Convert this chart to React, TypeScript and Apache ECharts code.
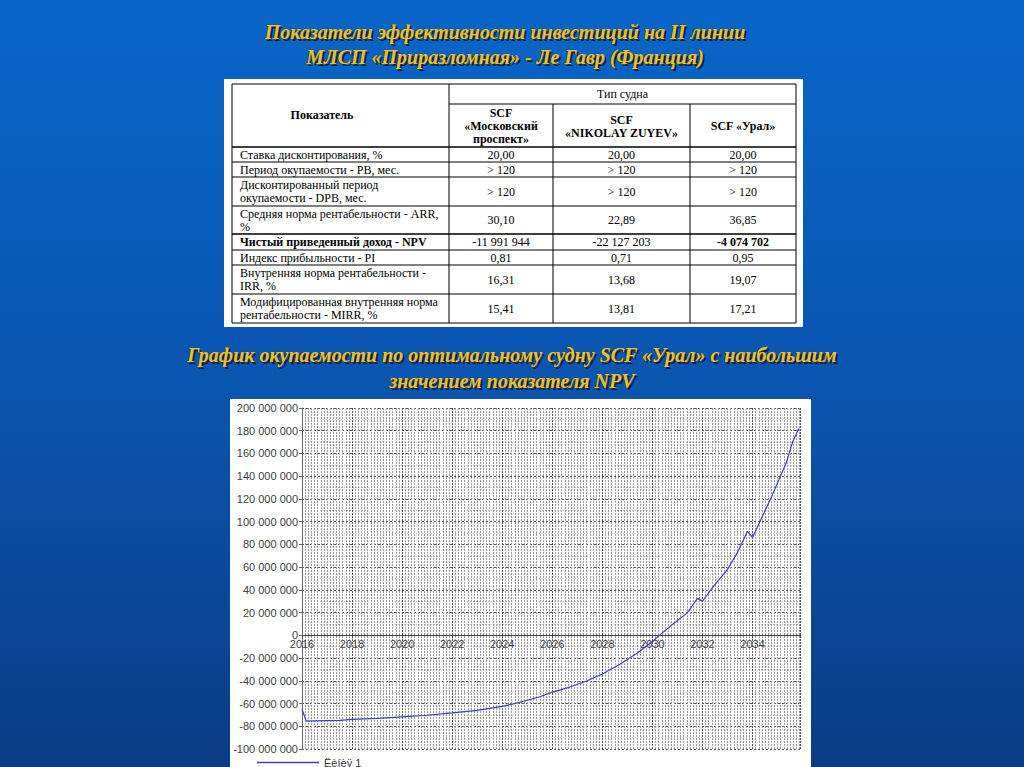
import React, { useEffect, useRef } from "react";
import * as echarts from "echarts";

// ---------- texts ----------
const titleLines = [
  "Показатели эффективности инвестиций на II линии",
  "МЛСП «Приразломная» - Ле Гавр (Франция)",
];
const chartTitleLines = [
  "График окупаемости по оптимальному судну SCF «Урал» с наибольшим",
  "значением показателя NPV",
];

// ---------- table data ----------
const tableHeaderIndicator = "Показатель";
const tableHeaderGroup = "Тип судна";
const shipNames = ["SCF\n«Московский\nпроспект»", "SCF\n«NIKOLAY ZUYEV»", "SCF «Урал»"];
const indicatorNames = [
  "Ставка дисконтирования, %",
  "Период окупаемости - PB, мес.",
  "Дисконтированный период\nокупаемости - DPB, мес.",
  "Средняя норма рентабельности - ARR,\n%",
  "Чистый приведенный доход - NPV",
  "Индекс прибыльности - PI",
  "Внутренняя норма рентабельности -\nIRR, %",
  "Модифицированная внутренняя норма\nрентабельности - MIRR, %",
];
const moskovskyValues = ["20,00", "> 120", "> 120", "30,10", "-11 991 944", "0,81", "16,31", "15,41"];
const nikolayValues = ["20,00", "> 120", "> 120", "22,89", "-22 127 203", "0,71", "13,68", "13,81"];
const uralValues = ["20,00", "> 120", "> 120", "36,85", "-4 074 702", "0,95", "19,07", "17,21"];

// ---------- chart data ----------
const years = [
  2016.0, 2016.17, 2017.5, 2018.0, 2019.0, 2020.0, 2021.0, 2022.0, 2023.0, 2023.3,
  2024.0, 2024.7, 2025.5, 2026.0, 2026.7, 2027.4, 2028.0, 2028.7, 2029.4, 2030.0,
  2030.25, 2030.8, 2031.4, 2031.8, 2032.0, 2032.4, 2033.0, 2033.4, 2033.8, 2034.0,
  2034.4, 2034.8, 2035.35, 2035.6, 2035.85,
];
const npvValues = [
  -65000000, -75500000, -74800000, -74000000, -73000000, -71700000, -70300000, -68300000, -66000000, -65000000,
  -62500000, -59000000, -54000000, -50000000, -45500000, -40000000, -34000000, -25500000, -15500000, -5500000,
  -500000, 9500000, 20000000, 32500000, 30000000, 42000000, 58000000, 73000000, 91500000, 86000000,
  105000000, 124000000, 152000000, 170000000, 182000000,
];
const seriesName = "Ëèíèÿ 1";
const xMin = 2016;
const xMax = 2035.92;
const xStep = 2;
const yMin = -100000000;
const yMax = 200000000;
const yStep = 20000000;

// ---------- layout (not data) ----------
const colX = [232, 449, 553, 690, 796];
const rowY = [147, 162, 177, 206, 234, 250, 265, 294, 323];

const fmtSpaces = (v: number) => String(Math.round(v)).replace(/\B(?=(\d{3})+(?!\d))/g, " ");

function goldTitle(lines: string[], cx: number, y0: number, dy: number) {
  const els: any[] = [];
  lines.forEach((t, i) => {
    const common = {
      text: t,
      fontFamily: '"Liberation Serif", serif',
      fontSize: 20,
      fontWeight: "bold",
      fontStyle: "italic",
      align: "center",
      verticalAlign: "middle",
    };
    els.push({
      type: "text",
      x: cx + 2,
      y: y0 + i * dy + 2,
      style: { ...common, fill: "rgba(10,10,40,0.75)" },
    });
    els.push({
      type: "text",
      x: cx,
      y: y0 + i * dy,
      style: { ...common, fill: "#e6c23a", stroke: "#5a4300", lineWidth: 0.7 },
    });
  });
  return els;
}

function tableGraphics() {
  const els: any[] = [];
  const line = (x1: number, y1: number, x2: number, y2: number, w = 1) =>
    els.push({
      type: "line",
      shape: { x1, y1, x2, y2 },
      style: { stroke: "#000", lineWidth: w },
    });
  const txt = (text: string, x: number, y: number, align: string, bold = false) =>
    els.push({
      type: "text",
      x,
      y,
      style: {
        text,
        fill: "#000",
        fontFamily: '"Liberation Serif", serif',
        fontSize: 12,
        fontWeight: bold ? "bold" : "normal",
        align,
        verticalAlign: "middle",
        lineHeight: 13,
      },
    });
  els.push({ type: "rect", shape: { x: 224, y: 79, width: 579, height: 248 }, style: { fill: "#fff" } });
  line(colX[0], 84, colX[4], 84);
  line(colX[1], 104, colX[4], 104);
  rowY.forEach((y, i) => line(colX[0], y, colX[4], y, i === 4 || i === 0 ? 1.6 : 1));
  line(colX[0], 84, colX[0], rowY[rowY.length - 1]);
  line(colX[1], 84, colX[1], rowY[rowY.length - 1]);
  line(colX[2], 104, colX[2], rowY[rowY.length - 1]);
  line(colX[3], 104, colX[3], rowY[rowY.length - 1]);
  line(colX[4], 84, colX[4], rowY[rowY.length - 1]);
  txt(tableHeaderIndicator, 322, 115, "center", true);
  txt(tableHeaderGroup, (colX[1] + colX[4]) / 2, 94, "center");
  shipNames.forEach((n, i) => txt(n, (colX[i + 1] + colX[i + 2]) / 2, (104 + 147) / 2 + 0.5, "center", true));
  const cols = [moskovskyValues, nikolayValues, uralValues];
  indicatorNames.forEach((name, r) => {
    const cy = (rowY[r] + rowY[r + 1]) / 2;
    txt(name, 240, cy, "left", r === 4);
    cols.forEach((vals, c) => {
      txt(vals[r], (colX[c + 1] + colX[c + 2]) / 2, cy, "center", r === 4 && c === 2);
    });
  });
  return els;
}

export default function App() {
  const ref = useRef<HTMLDivElement>(null);
  useEffect(() => {
    if (!ref.current) return;
    const chart = echarts.init(ref.current, undefined, { renderer: "svg" });
    const gridLeft = 302;
    const gridTop = 408;
    const gridW = 498.6;
    const gridH = 341;
    const zeroOffset = -gridH * (0 - yMin) / (yMax - yMin);
    chart.setOption({
      animation: false,
      backgroundColor: {
        type: "linear",
        x: 0,
        y: 0,
        x2: 0,
        y2: 1,
        colorStops: [
          { offset: 0, color: "#0866c8" },
          { offset: 0.5, color: "#0a55b0" },
          { offset: 1, color: "#0a3c84" },
        ],
      },
      graphic: [
        { type: "rect", z: -1, shape: { x: 230, y: 399, width: 581, height: 370 }, style: { fill: "#fff" } },
        ...goldTitle(titleLines, 505, 32, 25),
        ...tableGraphics(),
        ...goldTitle(chartTitleLines, 512, 355, 26),
      ],
      legend: {
        left: 252,
        top: 752,
        icon: "rect",
        itemWidth: 62,
        itemHeight: 1.5,
        itemGap: 6,
        textStyle: { fontFamily: '"Liberation Sans", Arial', fontSize: 11, color: "#333" },
        data: [seriesName],
      },
      grid: { left: gridLeft, top: gridTop, width: gridW, height: gridH },
      xAxis: {
        type: "value",
        min: xMin,
        max: xMax,
        interval: xStep,
        offset: zeroOffset,
        axisLine: { onZero: false, lineStyle: { color: "#444", width: 1 } },
        axisTick: { show: true, length: 3, lineStyle: { color: "#444" } },
        axisLabel: {
          margin: 3,
          fontFamily: '"Liberation Sans", Arial',
          fontSize: 11,
          color: "#404040",
          showMaxLabel: false,
          formatter: (v: number) => String(Math.round(v)),
        },
        splitLine: { show: true, lineStyle: { color: "#555", type: [2, 1], width: 1 } },
        minorTick: { show: false, splitNumber: 16 },
        minorSplitLine: { show: true, lineStyle: { color: "#9c9c9c", type: [2, 1], width: 1 } },
      },
      yAxis: {
        type: "value",
        min: yMin,
        max: yMax,
        interval: yStep,
        axisLine: { show: true, onZero: false, lineStyle: { color: "#666" } },
        axisTick: { show: true, length: 3, lineStyle: { color: "#666" } },
        axisLabel: {
          margin: 4,
          fontFamily: '"Liberation Sans", Arial',
          fontSize: 11,
          color: "#404040",
          formatter: (v: number) => fmtSpaces(v),
        },
        splitLine: { show: true, lineStyle: { color: "#555", type: [2, 2], width: 1 } },
        minorTick: { show: false, splitNumber: 2 },
        minorSplitLine: { show: true, lineStyle: { color: "#c4c4c4", type: [1, 2], width: 1 } },
      },
      series: [
        {
          name: seriesName,
          type: "line",
          data: years.map((y, i) => [y, npvValues[i]]),
          showSymbol: false,
          symbol: "none",
          lineStyle: { color: "#3c3cc8", width: 1.2 },
          itemStyle: { color: "#3c3cc8" },
          z: 5,
        },
      ],
    });
    return () => chart.dispose();
  }, []);
  return (
    <div
      ref={ref}
      style={{ position: "fixed", left: 0, top: 0, width: 1024, height: 767 }}
    />
  );
}
